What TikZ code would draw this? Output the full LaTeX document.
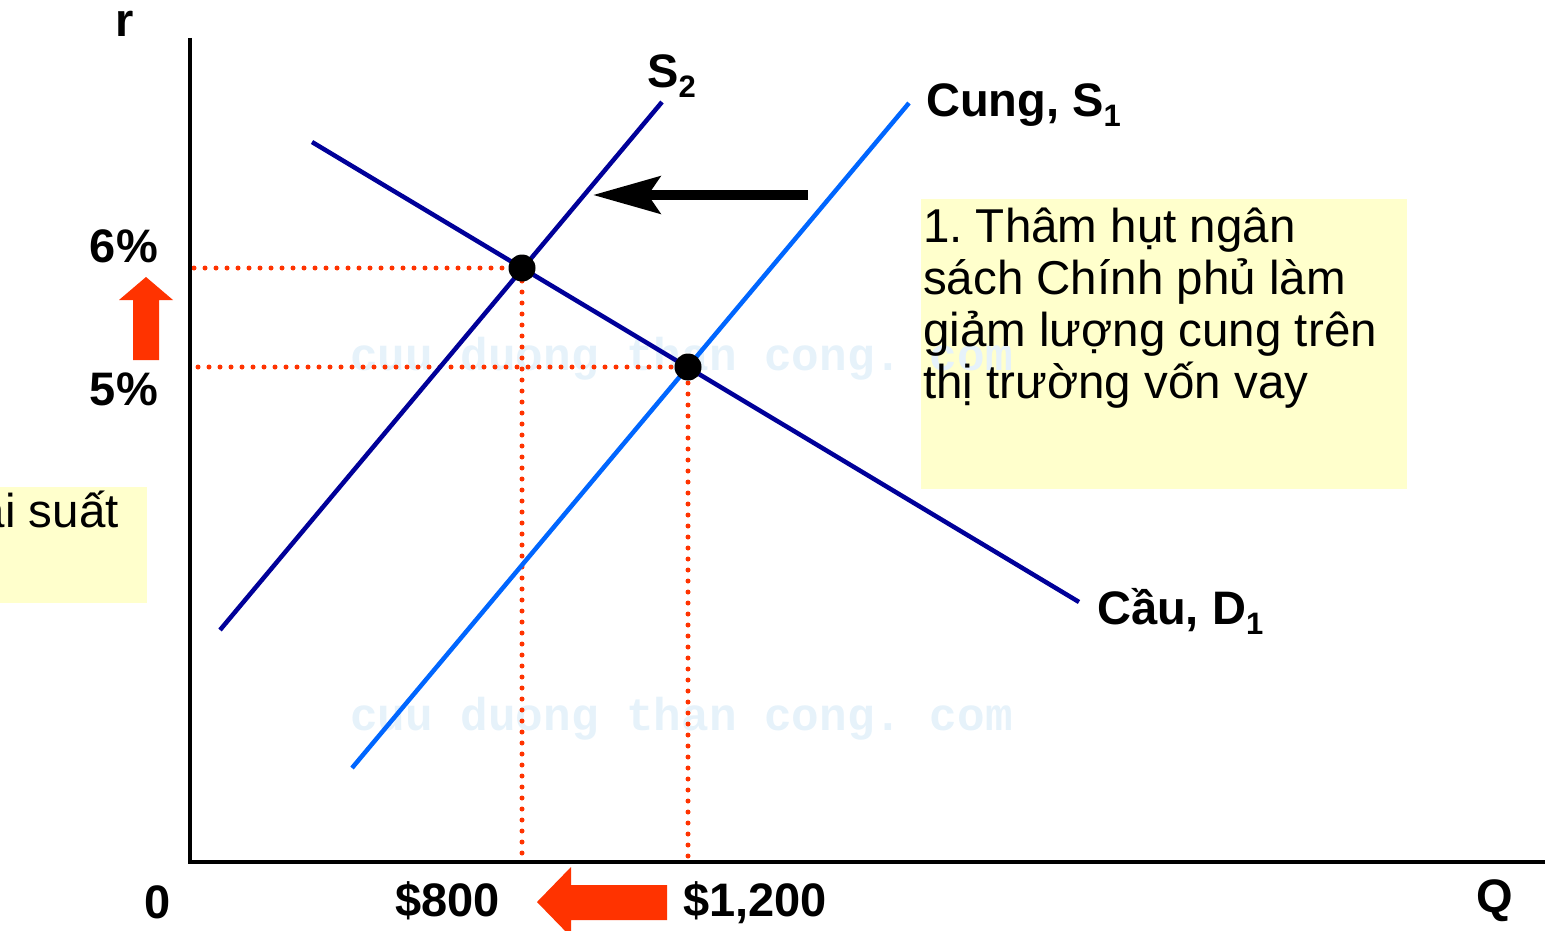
\documentclass[tikz,border=0pt]{standalone}
\usepackage{fontspec}
\setmainfont{Liberation Sans}
\newfontfamily\wmfont{Liberation Mono}
\usetikzlibrary{arrows.meta}
\definecolor{dblue}{HTML}{000099}
\definecolor{lblue}{HTML}{0066FF}
\definecolor{redo}{HTML}{FF3300}
\definecolor{note}{HTML}{FFFFCC}
\definecolor{wm}{HTML}{E6F2FA}
\newcommand{\lowidx}[1]{\raisebox{-10pt}{\fontsize{31}{31}\selectfont #1}}
\frenchspacing
\begin{document}
\begin{tikzpicture}[x=1pt,y=-1pt,
  lbl/.style={inner sep=0pt, font=\fontsize{47}{52}\selectfont\bfseries},
  txt/.style={inner sep=0pt, font=\fontsize{47.5}{52}\selectfont},
  curvedb/.style={dblue, line width=4.5pt},
  curvelb/.style={lblue, line width=4.5pt},
  guide/.style={redo, line width=5pt, line cap=round, dash pattern=on 0pt off 11pt},
  eq/.style={circle, fill=black, minimum size=27pt, inner sep=0pt},
  wmark/.style={inner sep=0pt, text=wm, font=\fontsize{46}{52}\selectfont\wmfont\bfseries},
  notebox/.style={fill=note, draw=none},
  redarrow/.style={fill=redo, draw=none},
  shiftarrow/.style={line width=10pt, -{Stealth[length=67pt, width=37pt, inset=12pt]}},
  axisline/.style={line width=4.5pt}
]
\useasboundingbox (0,0) rectangle (1550,931);
\clip (0,0) rectangle (1550,931);

% note boxes
\fill[notebox] (921,199) rectangle (1407,489);
\fill[notebox] (0,487) rectangle (147,603);

% watermark
\node[wmark, anchor=base west] (wm1) at (350,370) {cuu duong than cong. com};
\node[wmark, anchor=base west] (wm2) at (350,730) {cuu duong than cong. com};

% key coordinates
\coordinate (o) at (190,862);
\coordinate (ytop) at (190,38);
\coordinate (xend) at (1545,862);
\coordinate (s2a) at (220,630);
\coordinate (s2b) at (662,102);
\coordinate (s1a) at (352,768);
\coordinate (s1b) at (909,103);
\coordinate (da) at (312,142);
\coordinate (db) at (1079,602);
\coordinate (e1) at (522,268);
\coordinate (e2) at (688,367);
\coordinate (g6) at (194,268);
\coordinate (g5) at (198,367);
\coordinate (x8) at (522,860);
\coordinate (x12) at (688,860);

% guides
\draw[guide] (g6) -- (e1) -- (x8);
\draw[guide] (g5) -- (e2) -- (x12);

% axes
\draw[axisline] (ytop) -- (o) -- (xend);

% curves
\draw[curvedb] (s2a) -- (s2b);
\draw[curvelb] (s1a) -- (s1b);
\draw[curvedb] (da) -- (db);

% equilibria
\node[eq] (E1) at (e1) {};
\node[eq] (E2) at (e2) {};

% shift arrow
\coordinate (ba1) at (808,195);
\coordinate (ba2) at (593,195);
\draw[shiftarrow] (ba1) -- (ba2);

% red arrows
\fill[redarrow] (133,360) -- (159,360) -- (159,300) -- (173,300) -- (146,277) -- (119,300) -- (133,300) -- cycle;
\fill[redarrow] (667,885) -- (667,920) -- (571,920) -- (571,937) -- (537,902) -- (571,867) -- (571,885) -- cycle;

% labels
\node[lbl, anchor=base] (r) at (125,37) {r};
\node[lbl, anchor=base east] (p6) at (158,262) {6\%};
\node[lbl, anchor=base east] (p5) at (158,405) {5\%};
\node[lbl, anchor=base] (zero) at (158,918) {0};
\node[lbl, anchor=base west] (q800) at (395,916) {\$800};
\node[lbl, anchor=base west] (q1200) at (683,916) {\$1,200};
\node[lbl, anchor=base] (Q) at (1495,912) {Q};
\node[lbl, anchor=base west] (s2l) at (647,88) {S\lowidx{2}};
\node[lbl, anchor=base west] (s1l) at (926,117) {Cung, S\lowidx{1}};
\node[lbl, anchor=base west] (dl) at (1097,624) {Cầu, D\lowidx{1}};

% note texts
\node[txt, anchor=base west] (note1) at (923,242) {\parbox[t]{480pt}{\raggedright 1. Thâm hụt ngân\\ sách Chính phủ làm\\ giảm lượng cung trên\\ thị trường vốn vay}};
\node[txt, anchor=base east] (note2) at (119,527) {lãi suất};
\end{tikzpicture}
\end{document}
